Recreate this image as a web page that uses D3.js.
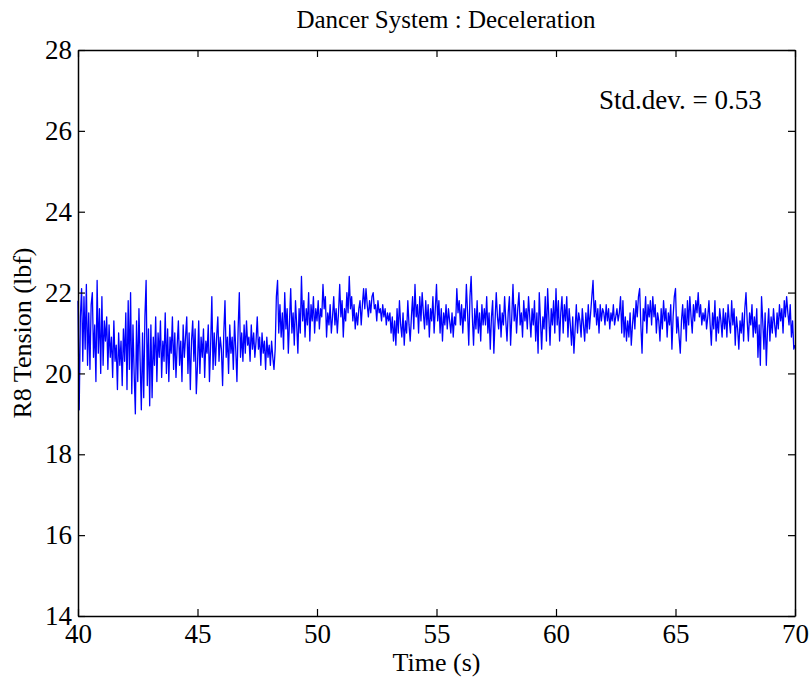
<!DOCTYPE html>
<html>
<head>
<meta charset="utf-8">
<title>Dancer System : Deceleration</title>
<script src="https://cdn.jsdelivr.net/npm/d3@7/dist/d3.min.js"></script>
<style>
  body { margin: 0; background: #fff; }
  text { font-family: "Liberation Serif", "Times New Roman", serif; fill: #000; }
</style>
</head>
<body>
<div id="chart-area"></div>
<script>
var startTime = 40;
var sampleStep = 0.05;

var tension40to45 = [
  21.8,19.1,21.4,22.1,20.3,21.9,20.6,22.2,20.2,21.5,20.1,21.7,22.0,20.4,21.2,19.8,22.3,20.5,21.6,20.0,
  21.9,20.2,21.3,20.8,21.4,20.1,21.2,20.4,20.9,19.9,21.3,20.3,20.7,19.6,21.0,20.2,20.8,19.7,21.1,20.3,
  21.5,19.6,21.8,20.1,22.0,19.5,21.2,20.0,19.0,21.3,19.8,21.6,20.3,19.1,21.0,19.4,21.4,22.3,19.7,21.1,
  19.2,21.2,19.4,20.9,20.2,21.4,19.8,21.0,20.4,21.3,19.9,20.8,20.3,21.5,20.0,21.1,19.8,20.9,20.5,21.4,
  20.1,21.0,19.9,20.7,21.3,20.2,20.8,19.8,21.2,20.4,20.9,21.4,20.0,21.0,19.6,20.8,21.3,20.3,21.1,19.5
];
var tension45to50 = [
  20.2,21.3,20.0,20.9,20.4,21.1,19.9,20.8,20.5,21.2,19.8,20.7,21.9,20.1,21.0,20.2,20.9,21.4,20.3,20.9,
  20.6,19.7,21.0,21.8,20.4,20.9,20.0,21.2,20.5,20.9,20.1,21.3,20.6,19.8,21.1,22.0,20.4,21.0,20.3,21.2,
  20.5,21.3,20.7,20.9,20.3,21.2,20.6,21.0,20.4,20.8,21.4,20.6,20.9,20.2,21.0,20.5,20.8,20.1,20.9,20.4,
  20.7,20.2,20.8,20.4,20.1,20.6,21.9,22.3,21.0,21.7,20.9,21.5,20.6,22.0,21.1,21.6,20.5,21.3,22.1,21.0,
  21.5,20.7,21.8,21.2,20.5,21.6,21.0,22.4,21.3,21.8,20.9,21.6,21.2,22.0,20.8,21.7,21.3,21.9,21.0,21.6
];
var tension50to55 = [
  21.3,21.8,21.1,21.6,21.4,22.2,21.6,21.9,20.9,21.5,21.2,21.7,21.0,21.4,21.9,21.2,21.6,21.0,21.5,22.2,
  21.4,21.8,20.9,21.6,21.3,22.0,21.5,22.4,21.6,21.9,21.3,21.7,21.1,21.5,21.2,21.6,21.8,21.2,21.7,22.1,
  21.6,22.1,21.7,21.4,21.8,21.5,21.9,22.0,21.6,21.7,21.3,21.8,21.5,21.6,21.3,21.7,21.4,21.6,21.2,21.5,
  21.3,21.5,21.0,21.4,20.8,21.3,20.7,21.6,21.0,21.8,21.2,20.9,21.5,20.7,21.3,21.0,21.8,21.2,20.8,21.4,
  21.9,21.1,22.2,21.4,21.7,21.0,21.9,21.3,22.0,21.5,21.1,21.8,21.2,21.7,20.9,21.6,21.3,21.9,21.0,21.6
];
var tension55to60 = [
  22.2,21.3,21.8,21.0,21.6,20.8,21.5,21.2,21.7,21.1,21.6,21.3,21.0,21.5,20.9,21.4,21.2,22.1,21.5,21.8,
  21.2,21.7,21.0,21.6,21.3,22.2,21.5,20.7,21.9,22.4,21.4,20.7,21.6,21.1,21.8,21.0,21.5,20.8,21.7,21.2,
  21.6,21.2,21.9,21.0,21.5,20.6,21.4,21.8,20.5,21.3,22.0,21.4,21.1,21.7,20.9,21.5,21.2,21.9,21.3,20.8,
  21.5,21.9,20.7,21.4,22.2,21.3,21.7,21.0,21.6,22.0,21.2,21.5,20.9,21.8,21.3,21.6,21.1,21.9,21.4,20.9,
  21.6,21.2,21.8,20.8,21.5,20.5,22.0,21.3,20.6,21.4,21.1,21.9,20.8,22.1,21.4,20.7,21.6,21.2,21.8,21.0
];
var tension60to65 = [
  22.1,21.2,21.8,20.8,21.5,21.9,21.0,21.7,21.3,21.9,20.9,21.6,21.2,20.7,21.4,20.5,21.1,21.7,21.0,21.5,
  21.3,20.9,21.6,21.2,20.8,21.5,21.0,21.7,21.1,21.5,21.9,22.3,21.4,21.8,21.2,21.6,21.0,21.7,21.3,21.6,
  21.5,21.2,21.7,21.3,21.6,21.1,21.5,21.3,21.7,21.2,21.4,21.6,21.3,21.5,21.9,21.0,21.8,20.9,21.4,20.8,
  21.3,20.9,21.5,20.7,21.2,21.6,21.1,21.8,21.4,21.9,22.1,21.2,20.5,21.6,21.3,21.9,21.0,21.7,21.4,21.8,
  21.2,21.9,21.4,21.7,21.0,21.5,21.3,20.8,21.6,21.1,21.8,21.3,21.6,20.9,21.5,21.2,21.7,20.6,21.4,21.9
];
var tension65to70 = [
  22.1,21.0,21.4,20.9,20.5,21.3,21.7,21.1,21.6,20.8,21.8,21.2,21.9,21.4,21.0,21.7,21.3,21.8,21.5,22.0,
  21.4,21.7,21.2,21.5,21.3,21.6,21.1,21.4,21.8,21.2,20.7,21.5,21.1,21.8,20.8,21.4,21.0,21.6,21.3,20.9,
  21.6,21.1,21.5,20.9,21.7,21.3,21.0,21.8,21.2,21.6,20.7,21.4,21.1,20.6,21.3,21.0,21.5,20.8,21.6,22.0,
  21.3,20.8,21.5,21.2,21.7,20.9,21.4,21.0,21.6,20.4,21.2,20.2,21.9,21.3,20.6,21.5,20.2,21.1,21.6,20.8,
  21.4,21.0,21.6,21.2,20.9,21.5,21.1,21.7,21.3,21.6,21.0,21.8,21.4,21.9,21.5,21.2,21.7,20.9,21.3,20.6,
  20.7
];

var xTicks = [40, 45, 50, 55, 60, 65, 70];
var yTicks = [14, 16, 18, 20, 22, 24, 26, 28];
var titleText = "Dancer System : Deceleration";
var xLabelText = "Time (s)";
var yLabelText = "R8 Tension (lbf)";
var stdDevText = "Std.dev. = 0.53";

var tension = [].concat(tension40to45, tension45to50, tension50to55,
  tension55to60, tension60to65, tension65to70);
var data = tension.map(function(v, i) {
  return { time: startTime + i * sampleStep, value: v };
});

var margin = { left: 78, right: 15, top: 50, bottom: 63 };
var width = 810 - margin.left - margin.right;
var height = 679 - margin.top - margin.bottom;

var svg = d3.select("#chart-area")
  .append("svg")
    .attr("width", 810)
    .attr("height", 679);

var g = svg.append("g")
  .attr("transform", "translate(" + margin.left + "," + margin.top + ")");

// Scales
var x = d3.scaleLinear()
  .domain([40, 70])
  .range([0, width]);
var y = d3.scaleLinear()
  .domain([14, 28])
  .range([height, 0]);

// Signal
var line = d3.line()
  .x(function(d) { return x(d.time); })
  .y(function(d) { return y(d.value); });

g.append("path")
  .datum(data)
  .attr("fill", "none")
  .attr("stroke", "#0000ff")
  .attr("stroke-width", 1.3)
  .attr("stroke-linejoin", "round")
  .attr("d", line);

// Axes, MATLAB style: ticks pointing in, on all four sides
var tickLen = 7;
var fontSize = "27px";

g.append("g")
  .attr("transform", "translate(0," + height + ")")
  .call(d3.axisBottom(x).tickValues(xTicks).tickSizeInner(-tickLen).tickSizeOuter(0).tickPadding(8));
g.append("g")
  .call(d3.axisTop(x).tickValues(xTicks).tickSizeInner(-tickLen).tickSizeOuter(0).tickFormat(""));
g.append("g")
  .call(d3.axisLeft(y).tickValues(yTicks).tickSizeInner(-tickLen).tickSizeOuter(0).tickPadding(6));
g.append("g")
  .attr("transform", "translate(" + width + ",0)")
  .call(d3.axisRight(y).tickValues(yTicks).tickSizeInner(-tickLen).tickSizeOuter(0).tickFormat(""));

g.selectAll(".domain")
  .attr("stroke", "#000")
  .attr("stroke-width", 1.5);
g.selectAll(".tick line")
  .attr("stroke", "#000")
  .attr("stroke-width", 1.2);
g.selectAll(".tick text")
  .attr("font-family", "Liberation Serif, serif")
  .attr("font-size", fontSize)
  .attr("fill", "#000");

// Labels
svg.append("text")
  .attr("x", 446)
  .attr("y", 28)
  .attr("text-anchor", "middle")
  .attr("font-size", "25px")
  .text(titleText);

svg.append("text")
  .attr("x", margin.left + width / 2)
  .attr("y", 671)
  .attr("text-anchor", "middle")
  .attr("font-size", "26px")
  .text(xLabelText);

svg.append("text")
  .attr("transform", "translate(31," + (margin.top + height / 2) + ") rotate(-90)")
  .attr("text-anchor", "middle")
  .attr("font-size", "26px")
  .text(yLabelText);

svg.append("text")
  .attr("x", 599)
  .attr("y", 109)
  .attr("font-size", "27px")
  .text(stdDevText);
</script>
</body>
</html>
